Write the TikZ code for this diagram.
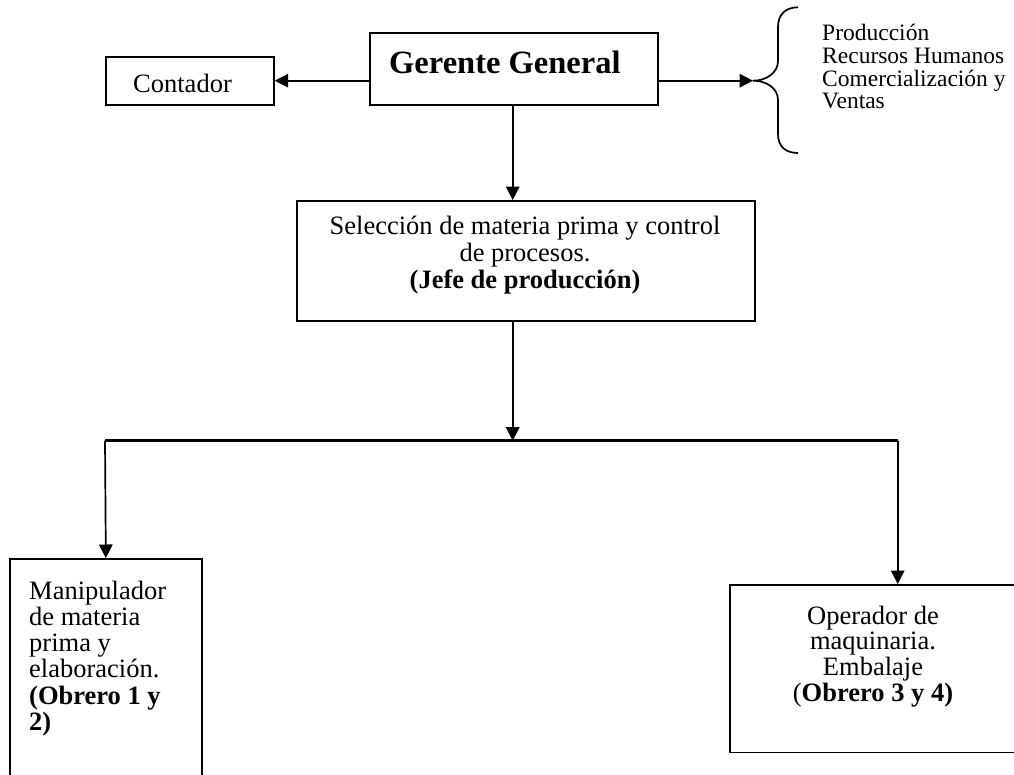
\documentclass[tikz,border=0pt]{standalone}
\usepackage{fontspec}
\setmainfont{Liberation Serif}
\usetikzlibrary{arrows.meta}
\begin{document}
\begin{tikzpicture}[x=1pt,y=-1pt,
  box/.style={draw, line width=1.7pt, inner sep=0pt, anchor=north west},
  conn/.style={line width=1.7pt, -{Triangle[length=13.5pt,width=13.5pt]}},
  body/.style={inner sep=0pt, font=\fontsize{26.5}{26.5}\selectfont},
  side/.style={inner sep=0pt, font=\fontsize{23.5}{22.5}\selectfont},
]
\useasboundingbox (0,0) rectangle (1014,774);
\begin{scope}
\clip (0,0) rectangle (1014,774);
% boxes
\node[box, minimum width=288pt, minimum height=72pt] (ger) at (369,32) {};
\node[box, minimum width=168pt, minimum height=48pt] (cont) at (105,56) {};
\node[box, minimum width=458pt, minimum height=120pt] (sel) at (296,200) {};
\node[box, minimum width=192pt, minimum height=250pt] (man) at (9,558) {};
\node[box, minimum width=288pt, minimum height=167.7pt] (ope) at (729.3,584) {};
% texts
\node[inner sep=0pt, anchor=base west, font=\fontsize{32.5}{36}\selectfont\bfseries] (gert) at (389,73) {Gerente General};
\node[body, anchor=base west] (contt) at (133,92.7) {Contador};
\node[body, anchor=base, font=\fontsize{26.5}{27}\selectfont] (selt) at (525,234.5)
  {\begin{tabular}[t]{@{}c@{}}Selección de materia prima y control\\de procesos.\\\textbf{(Jefe de producción)}\end{tabular}};
\node[body, anchor=base west, font=\fontsize{26.5}{26.3}\selectfont] (mant) at (29,599)
  {\begin{tabular}[t]{@{}l@{}}Manipulador\\de materia\\prima y\\elaboración.\\\textbf{(Obrero 1 y}\\\textbf{2)}\end{tabular}};
\node[body, anchor=base, font=\fontsize{26.5}{25.5}\selectfont] (opet) at (873,624)
  {\begin{tabular}[t]{@{}c@{}}Operador de\\maquinaria.\\Embalaje\\(\textbf{Obrero 3 y 4)}\end{tabular}};
\node[side, anchor=base west] (areas) at (822,40.5)
  {\begin{tabular}[t]{@{}l@{}}Producción\\Recursos Humanos\\Comercialización y\\Ventas\end{tabular}};
% coordinates
\coordinate (ay) at (0,80.7);
\coordinate (btip) at (753,80.7);
\coordinate (vx) at (512.7,0);
\coordinate (hL) at (105,440.7);
\coordinate (hM) at (512.7,440.7);
\coordinate (hR) at (897.7,440.7);
% connectors
\draw[conn] (ger.west |- ay) -- (cont.east |- ay);
\draw[conn] (ger.east |- btip) -- (btip);
\draw[conn] (ger.south -| vx) -- (sel.north -| vx);
\draw[conn] (sel.south -| vx) -- (hM);
\draw[line width=3pt] (hL) -- (hR);
\draw[conn] (hL) -- (man.north);
\draw[conn] (hR) -- (hR |- ope.north);
% brace
\draw[line width=1.7pt] (798,7.3) .. controls (786,7.3) and (778,14) .. (778,27) -- (778,61)
  .. controls (778,73) and (766,80.7) .. (btip)
  .. controls (766,80.7) and (778,88) .. (778,100) -- (778,134)
  .. controls (778,147) and (786,153) .. (798,153);
\end{scope}
\end{tikzpicture}
\end{document}
